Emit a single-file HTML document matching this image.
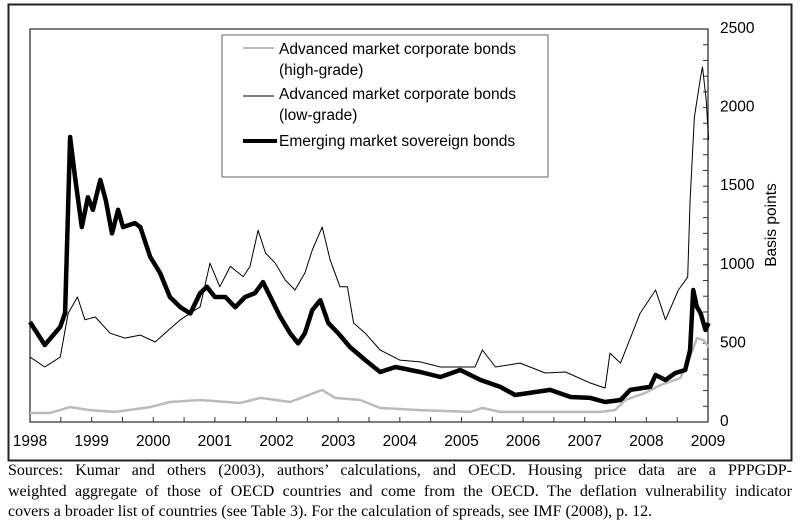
<!DOCTYPE html>
<html><head><meta charset="utf-8"><style>
body{margin:0;background:#fff;width:800px;height:532px;overflow:hidden;position:relative}
#cap{position:absolute;left:8px;top:461px;width:784px;font-family:"Liberation Serif",serif;font-size:16px;line-height:20.5px;color:#000}
#cap div{white-space:nowrap;text-align:justify;text-align-last:justify}
#cap div.last{text-align-last:left}
</style></head><body>
<svg id="chart" width="800" height="466" style="position:absolute;left:0;top:0" font-family="Liberation Sans, Arial, sans-serif">
<rect x="8.5" y="4.5" width="783" height="456" fill="none" stroke="#222" stroke-width="2"/>
<g id="axes"></g><g id="series"></g>
<g>
<rect x="222" y="35" width="326" height="142" fill="#fff" stroke="#666" stroke-width="1"/>
<line x1="243" y1="48" x2="274" y2="48" stroke="#bbb" stroke-width="2"/>
<text x="279" y="54" font-size="15.5">Advanced market corporate bonds</text>
<text x="279" y="75" font-size="15.5">(high-grade)</text>
<line x1="243" y1="96" x2="274" y2="96" stroke="#000" stroke-width="1"/>
<text x="279" y="99" font-size="15.5">Advanced market corporate bonds</text>
<text x="279" y="120" font-size="15.5">(low-grade)</text>
<line x1="243" y1="141" x2="277" y2="141" stroke="#000" stroke-width="4"/>
<text x="279" y="146" font-size="15.5">Emerging market sovereign bonds</text>
</g>
<text transform="translate(776,225) rotate(-90)" text-anchor="middle" font-size="15.5">Basis points</text>
</svg>
<div id="cap"><div>Sources: Kumar and others (2003), authors’ calculations, and OECD. Housing price data are a PPPGDP-</div><div>weighted aggregate of those of OECD countries and come from the OECD. The deflation vulnerability indicator</div><div class="last">covers a broader list of countries (see Table 3). For the calculation of spreads, see IMF (2008), p. 12.</div></div>
<script>
const xTickLabels=["1998","1999","2000","2001","2002","2003","2004","2005","2006","2007","2008","2009"];
const yTickLabels=["0","500","1000","1500","2000","2500"];
const emDates=[1998.00,1998.24,1998.49,1998.57,1998.65,1998.73,1998.84,1998.94,1999.02,1999.14,1999.23,1999.33,1999.43,1999.51,1999.70,1999.79,1999.95,2000.11,2000.27,2000.44,2000.60,2000.76,2000.87,2001.00,2001.17,2001.33,2001.49,2001.65,2001.78,2001.90,2002.06,2002.22,2002.35,2002.46,2002.58,2002.71,2002.84,2003.00,2003.19,2003.44,2003.68,2003.93,2004.33,2004.66,2004.98,2005.31,2005.63,2005.87,2006.44,2006.77,2007.09,2007.33,2007.58,2007.74,2008.06,2008.15,2008.31,2008.47,2008.63,2008.71,2008.76,2008.82,2008.88,2008.96,2009.01];
const emValues=[636,490,605,693,1813,1560,1240,1430,1350,1540,1410,1200,1350,1240,1265,1240,1050,948,795,730,690,820,860,795,795,730,795,820,890,795,670,565,500,565,712,775,630,565,477,394,318,350,318,286,331,267,223,172,204,159,153,127,140,204,223,299,267,312,331,458,840,732,693,585,630];
const lowDates=[1998.00,1998.24,1998.49,1998.62,1998.77,1998.89,1999.06,1999.30,1999.54,1999.79,2000.03,2000.19,2000.44,2000.60,2000.76,2000.92,2001.08,2001.25,2001.46,2001.57,2001.70,2001.82,2001.98,2002.14,2002.30,2002.46,2002.58,2002.74,2002.87,2003.03,2003.15,2003.25,2003.44,2003.68,2004.00,2004.33,2004.66,2005.22,2005.34,2005.55,2005.95,2006.36,2006.69,2007.09,2007.33,2007.41,2007.58,2007.90,2008.15,2008.31,2008.52,2008.67,2008.71,2008.78,2008.88,2008.91,2008.97,2009.01];
const lowValues=[413,350,413,693,795,650,668,565,534,553,509,565,650,693,732,1010,860,990,925,990,1220,1075,1010,903,840,948,1094,1240,1030,860,860,630,565,458,394,382,350,350,458,350,375,312,318,248,216,438,375,693,840,650,840,922,1412,1940,2195,2258,2048,1794];
const highDates=[1998.00,1998.32,1998.49,1998.65,1998.97,1999.38,1999.95,2000.27,2000.76,2001.41,2001.74,2002.22,2002.74,2002.95,2003.36,2003.68,2004.33,2005.14,2005.34,2005.63,2007.25,2007.49,2007.66,2007.98,2008.23,2008.55,2008.71,2008.82,2008.93,2009.01];
const highValues=[57,57,76,95,76,64,95,127,140,121,153,127,204,153,140,89,76,64,89,64,64,76,140,185,235,280,413,534,520,477];
const NS="http://www.w3.org/2000/svg";
const X0=30,X1=708,Y0=422,Y1=29;
const xs=d=>X0+(d-1998)/11*(X1-X0);
const ys=v=>Y0-v/2500*(Y0-Y1);
function mk(tag,attrs,parent){const e=document.createElementNS(NS,tag);for(const k in attrs)e.setAttribute(k,attrs[k]);parent.appendChild(e);return e;}
const ax=document.getElementById('axes');
let l;
l=mk('path',{d:`M${X0},${Y0} L${X1},${Y0} L${X1},${Y1} L${X0},${Y1} Z`,fill:'none',stroke:'#333','stroke-width':1.3},ax);


for(let i=0;i<=22;i++){const x=xs(1998+i/2);
 l=mk('line',{x1:x,x2:x,y1:Y0,y2:Y0-5,stroke:'#333'},ax);
 
 }
xTickLabels.forEach((t,i)=>{l=mk('text',{x:xs(1998+i),y:446,'text-anchor':'middle','font-size':15.5},ax);l.textContent=t;
 
 });
for(let v=0;v<=2500;v+=100){const y=ys(v);
 l=mk('line',{x1:X1,x2:X1-5,y1:y,y2:y,stroke:'#333'},ax);
 
 }
yTickLabels.forEach(t=>{l=mk('text',{x:720,y:ys(+t)+4,'font-size':15.5},ax);l.textContent=t;
 
 });
const sg=document.getElementById('series');
function line(d,v,stroke,w,name){const p=d.map((dd,i)=>(i?'L':'M')+xs(dd).toFixed(1)+','+ys(v[i]).toFixed(1)).join(' ');
 const e=mk('path',{d:p,fill:'none',stroke:stroke,'stroke-width':w,'stroke-linejoin':'round'},sg);
 
 }
line(highDates,highValues,'#bbb',2.5,'high-grade-line');
line(emDates,emValues,'#000',4.5,'emerging-market-line');
line(lowDates,lowValues,'#000',1,'low-grade-line');
</script>
</body></html>
